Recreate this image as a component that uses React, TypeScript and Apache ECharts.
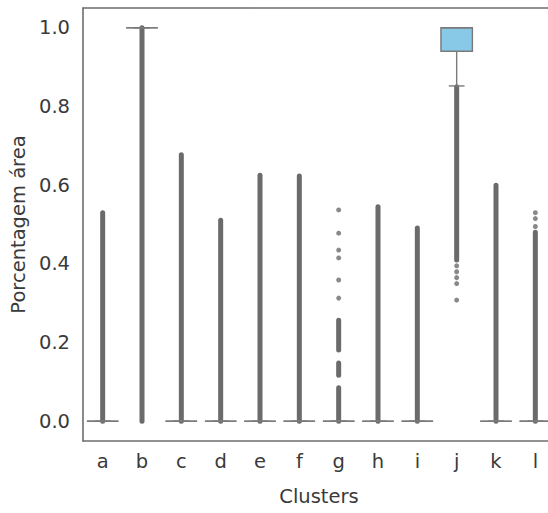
import React, { useEffect, useRef } from "react";
import * as echarts from "echarts";

const categories = ["a", "b", "c", "d", "e", "f", "g", "h", "i", "j", "k", "l"];

// box statistics per cluster: [q1, median, q3, lowerWhisker, upperWhisker]
const boxQ1 = [0, 1.0, 0, 0, 0, 0, 0, 0, 0, 0.94, 0, 0];
const boxMedian = [0, 1.0, 0, 0, 0, 0, 0, 0, 0, 1.0, 0, 0];
const boxQ3 = [0, 1.0, 0, 0, 0, 0, 0, 0, 0, 1.0, 0, 0];
const whiskerLow = [0, 1.0, 0, 0, 0, 0, 0, 0, 0, 0.852, 0, 0];
const whiskerHigh = [0, 1.0, 0, 0, 0, 0, 0, 0, 0, 1.0, 0, 0];
const boxColors = ["#4c72b0", "#dd8452", "#55a868", "#c44e52", "#8172b3", "#937860", "#da8bc3", "#8c8c8c", "#ccb974", "#87c9e6", "#4c72b0", "#dd8452"];

// dense runs of outliers: [cluster, from, to]
const outlierRuns: [string, number, number][] = [
  ["a", 0, 0.53],
  ["b", 0, 1.0],
  ["c", 0, 0.677],
  ["d", 0, 0.511],
  ["e", 0, 0.625],
  ["f", 0, 0.623],
  ["g", 0, 0.085],
  ["g", 0.117, 0.148],
  ["g", 0.181, 0.257],
  ["h", 0, 0.545],
  ["i", 0, 0.491],
  ["j", 0.41, 0.85],
  ["k", 0, 0.6],
  ["l", 0, 0.48],
];

// isolated outliers: [cluster, value]
const outlierPoints: [string, number][] = [
  ["g", 0.537],
  ["g", 0.478],
  ["g", 0.435],
  ["g", 0.415],
  ["g", 0.359],
  ["g", 0.313],
  ["j", 0.395],
  ["j", 0.38],
  ["j", 0.365],
  ["j", 0.35],
  ["j", 0.308],
  ["l", 0.53],
  ["l", 0.515],
  ["l", 0.495],
];

const yTicks = [0, 0.2, 0.4, 0.6, 0.8, 1.0];

const FONT = "DejaVu Sans";
const TEXT = "#3a3a3a";
const LINE = "#7a7a7a";
const FLIER = "#6b6b6b";
const FS = 19.5;
const AXIS = { show: true, onZero: false, lineStyle: { color: "#6e6e6e", width: 1.6 } };

export default function App() {
  const ref = useRef<HTMLDivElement>(null);
  useEffect(() => {
    document.body.style.margin = "0";
    const chart = echarts.init(ref.current!, null, { renderer: "svg" });
    const boxData = categories.map((c, i) => [i, boxQ1[i], boxMedian[i], boxQ3[i], whiskerLow[i], whiskerHigh[i]]);
    chart.setOption({
      animation: false,
      backgroundColor: "#ffffff",
      grid: {
        left: 83,
        top: 8,
        width: 472,
        height: 433,
        show: false,
      },
      xAxis: [
        {
          type: "category",
          data: categories,
          position: "bottom",
          boundaryGap: true,
          axisLine: AXIS,
          axisTick: { show: false },
          splitLine: { show: false },
          axisLabel: { color: TEXT, fontFamily: FONT, fontSize: FS, margin: 10 },
          name: "Clusters",
          nameLocation: "middle",
          nameGap: 45,
          nameTextStyle: { color: TEXT, fontFamily: FONT, fontSize: FS },
        },
        {
          type: "category",
          data: categories,
          position: "top",
          boundaryGap: true,
          axisLine: AXIS,
          axisTick: { show: false },
          axisLabel: { show: false },
          splitLine: { show: false },
        },
      ],
      yAxis: {
        type: "value",
        min: -0.05,
        max: 1.05,
        axisLine: AXIS,
        axisTick: { show: false },
        splitLine: { show: false },
        axisLabel: {
          color: TEXT,
          fontFamily: FONT,
          fontSize: FS,
          margin: 13,
          customValues: yTicks,
          formatter: (v: number) => v.toFixed(1),
        },
        name: "Porcentagem área",
        nameLocation: "middle",
        nameGap: 50,
        nameTextStyle: { color: TEXT, fontFamily: FONT, fontSize: FS },
      },
      series: [
        {
          type: "custom",
          name: "runs",
          data: outlierRuns.map(([c, a, b]) => [categories.indexOf(c), a, b]),
          encode: { x: 0, y: [1, 2] },
          z: 2,
          renderItem: (params: any, api: any) => {
            const x = api.value(0);
            const p1 = api.coord([x, api.value(1)]);
            const p2 = api.coord([x, api.value(2)]);
            return {
              type: "line",
              shape: { x1: p1[0], y1: p1[1], x2: p2[0], y2: p2[1] },
              style: { stroke: FLIER, lineWidth: 5, lineCap: "round" },
            };
          },
        },
        {
          type: "scatter",
          name: "points",
          data: outlierPoints.map(([c, v]) => [categories.indexOf(c), v]),
          symbol: "circle",
          symbolSize: 5,
          itemStyle: { color: FLIER },
          z: 2,
        },
        {
          type: "custom",
          name: "boxes",
          data: boxData,
          encode: { x: 0, y: [1, 2, 3, 4, 5] },
          z: 3,
          renderItem: (params: any, api: any) => {
            const x = api.value(0);
            const q1 = api.coord([x, api.value(1)]);
            const med = api.coord([x, api.value(2)]);
            const q3 = api.coord([x, api.value(3)]);
            const lo = api.coord([x, api.value(4)]);
            const hi = api.coord([x, api.value(5)]);
            const band = api.size([1, 0])[0];
            const bw = band * 0.8;
            const cx = q1[0];
            const cap = bw / 2;
            const st = { stroke: LINE, lineWidth: 1.4 };
            return {
              type: "group",
              children: [
                { type: "line", shape: { x1: cx, y1: q1[1], x2: cx, y2: lo[1] }, style: st },
                { type: "line", shape: { x1: cx, y1: q3[1], x2: cx, y2: hi[1] }, style: st },
                { type: "line", shape: { x1: cx - cap / 2, y1: lo[1], x2: cx + cap / 2, y2: lo[1] }, style: st },
                { type: "line", shape: { x1: cx - cap / 2, y1: hi[1], x2: cx + cap / 2, y2: hi[1] }, style: st },
                {
                  type: "rect",
                  shape: { x: cx - bw / 2, y: q3[1], width: bw, height: q1[1] - q3[1] },
                  style: { fill: boxColors[params.dataIndex], stroke: LINE, lineWidth: 1.4 },
                },
                { type: "line", shape: { x1: cx - bw / 2, y1: med[1], x2: cx + bw / 2, y2: med[1] }, style: st },
              ],
            };
          },
        },
      ],
    });
    return () => chart.dispose();
  }, []);
  return (
    <div style={{ width: 548, height: 513, overflow: "hidden", position: "relative" }}>
      <div ref={ref} style={{ width: 562, height: 513 }} />
    </div>
  );
}
